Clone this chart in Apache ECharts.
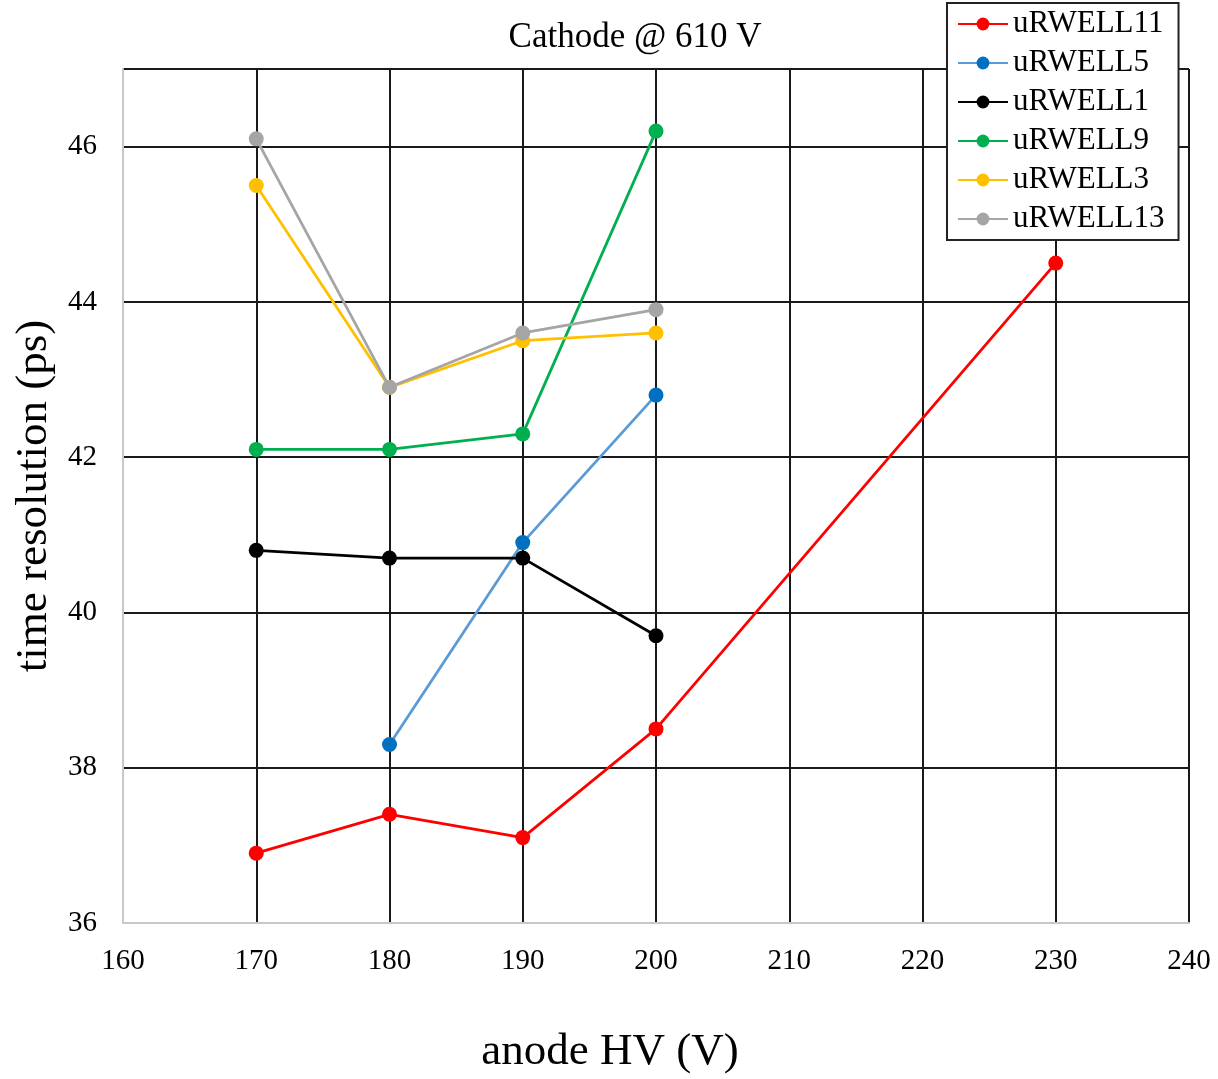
<!DOCTYPE html>
<html>
<head>
<meta charset="utf-8">
<script src="https://cdn.jsdelivr.net/npm/echarts@6/dist/echarts.min.js"></script>
<style>html,body{margin:0;padding:0;background:#fff;}#main{width:1218px;height:1079px;}</style>
</head>
<body>
<div id="main"></div>
<script>
const titleText = 'Cathode @ 610 V';
const xName = 'anode HV (V)';
const yName = 'time resolution (ps)';
const seriesNames = ['uRWELL11', 'uRWELL5', 'uRWELL1', 'uRWELL9', 'uRWELL3', 'uRWELL13'];
const uRWELL11 = [[170, 36.9], [180, 37.4], [190, 37.1], [200, 38.5], [230, 44.5]];
const uRWELL5 = [[180, 38.3], [190, 40.9], [200, 42.8]];
const uRWELL1 = [[170, 40.8], [180, 40.7], [190, 40.7], [200, 39.7]];
const uRWELL9 = [[170, 42.1], [180, 42.1], [190, 42.3], [200, 46.2]];
const uRWELL3 = [[170, 45.5], [180, 42.9], [190, 43.5], [200, 43.6]];
const uRWELL13 = [[170, 46.1], [180, 42.9], [190, 43.6], [200, 43.9]];
const dataSets = [uRWELL11, uRWELL5, uRWELL1, uRWELL9, uRWELL3, uRWELL13];
const lineColors = ['#FF0000', '#5B9BD5', '#000000', '#00B050', '#FFC000', '#A5A5A5'];
const markerColors = ['#FF0000', '#0070C0', '#000000', '#00B050', '#FFC000', '#A5A5A5'];

const font = '"Liberation Serif", "Times New Roman", serif';
const chart = echarts.init(document.getElementById('main'));
chart.setOption({
  animation: false,
  backgroundColor: '#fff',
  title: [
    {
      text: titleText, left: 630, top: 15, textAlign: 'center',
      textStyle: { fontFamily: font, fontSize: 35, fontWeight: 'normal', color: '#000' }
    },
    {
      text: xName, left: 605, top: 1025, textAlign: 'center',
      textStyle: { fontFamily: font, fontSize: 45, fontWeight: 'normal', color: '#000' }
    }
  ],
  legend: {
    orient: 'vertical', left: 947, top: 3,
    padding: [5, 14, 5, 10],
    borderColor: '#222', borderWidth: 2,
    backgroundColor: '#fff',
    itemWidth: 50, itemHeight: 16, itemGap: 7,
    textStyle: { fontFamily: font, fontSize: 31, color: '#000', lineHeight: 30, padding: [2, 0, 0, 0] },
    data: seriesNames
  },
  grid: { left: 123, right: 29, top: 69, bottom: 156 },
  xAxis: {
    type: 'value', min: 160, max: 240, interval: 10,
    axisLine: { show: true, lineStyle: { color: '#C8C8C8', width: 2 } },
    axisTick: { show: false },
    axisLabel: { fontFamily: font, fontSize: 29, color: '#000', margin: 24 },
    splitLine: { show: true, showMinLine: false, lineStyle: { color: '#1a1a1a', width: 2 } }
  },
  yAxis: {
    type: 'value', min: 36, max: 47, interval: 2,
    name: yName, nameLocation: 'middle', nameGap: 63,
    nameTextStyle: { fontFamily: font, fontSize: 45, color: '#000' },
    axisLine: { show: true, lineStyle: { color: '#C8C8C8', width: 2 } },
    axisTick: { show: false },
    axisLabel: { fontFamily: font, fontSize: 29, color: '#000', margin: 26, showMaxLabel: false,
      formatter: v => (v === 47 ? '' : String(v)) },
    splitLine: { show: true, showMinLine: false, lineStyle: { color: '#1a1a1a', width: 2 } }
  },
  series: seriesNames.map((n, i) => ({
    name: n, type: 'line', data: dataSets[i],
    symbol: 'circle', symbolSize: 15,
    lineStyle: { color: lineColors[i], width: 2.8 },
    itemStyle: { color: markerColors[i] },
    z: 3
  }))
});
</script>
</body>
</html>
